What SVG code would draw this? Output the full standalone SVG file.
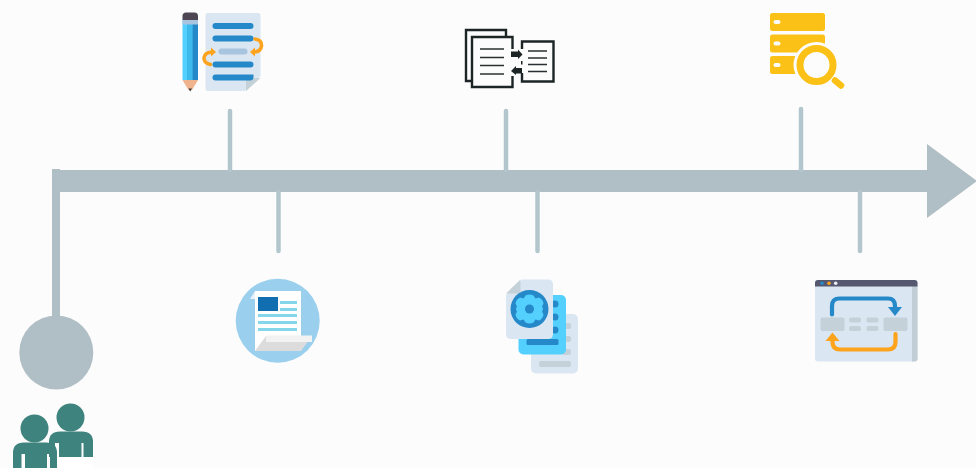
<svg xmlns="http://www.w3.org/2000/svg" width="976" height="468" viewBox="0 0 976 468">
<style>
.axis{fill:#b0bec5}
.tick{stroke:#b3c6cd;stroke-width:4.500;stroke-linecap:round;fill:none}
.person{fill:#3e837d}
.pale{fill:#dae6f1}
.blue{fill:#2488c9}
.mute{fill:#c5d1d9}
.sky{fill:#54d0fe}
.gold{fill:#fbc117}
.ink{fill:none;stroke:#1d2426;stroke-width:2.400}
.rule{stroke:#2a3032;stroke-width:1.300}
.orange{fill:none;stroke:#fda31c;stroke-width:3.500;stroke-linecap:round}
.orangef{fill:#fda31c}
</style>
<rect width="976" height="468" fill="#fcfcfc"/>
<g id="connectors">
<rect class="axis" x="52" y="169" width="8" height="160"/>
<path class="axis" d="M52 170H927V144L977 181L927 218V192H52Z"/>
<path class="tick" d="M230 111V170M506 111V170M801 109V170M278.500 192V251M537.500 192V251M860 192V251"/>
</g>
<g id="start-node">
<circle class="axis" cx="56.300" cy="352.500" r="37"/>
</g>
<g id="people">
<rect x="57" y="457" width="36" height="11" fill="#fff"/>
<circle class="person" cx="70.500" cy="417.500" r="14"/>
<path class="person" d="M49 457V442Q49 431.500 60 431.500H82Q93 431.500 93 442V457H83.500V443H81.500V457H59V443H55V457Z"/>
<circle class="person" cx="34.500" cy="428.500" r="14"/>
<path class="person" d="M13 468V453Q13 442.500 24 442.500H46Q57 442.500 57 453V468H50V454H47V468H25V454H21.500V468Z"/>
</g>
<g id="pencil-doc">
<path class="pale" d="M208 13H258Q260.500 13 260.500 16V76L245 91H208Q205.500 91 205.500 88V16Q205.500 13 208 13Z"/>
<path fill="#c5d1d9" d="M246 91V80.500Q246 78 249 78H260.500Z"/>
<rect class="blue" x="212.500" y="23" width="41" height="6" rx="3"/>
<rect class="blue" x="212.500" y="35.500" width="41" height="6" rx="3"/>
<rect fill="#a9c4df" x="218.500" y="48.500" width="29" height="6" rx="3"/>
<rect class="blue" x="212.500" y="61.500" width="41" height="6" rx="3"/>
<path class="blue" d="M215.500 74.500H253.500V77Q253.500 80.500 250 80.500H215.500Q212.500 80.500 212.500 77.500T215.500 74.500Z"/>
<path class="orange" d="M255 39Q262 40 261.500 46Q261 51.500 254 52"/>
<path class="orangef" d="M255 47.500V56.500L250 52Z"/>
<path class="orange" d="M210.500 64.500Q203.500 63 204 57.500Q205 52.500 211.500 52"/>
<path class="orangef" d="M211 47.500V56.500L216 52Z"/>
<rect class="sky" x="182.500" y="20" width="15.500" height="60"/>
<rect fill="#3eb9ec" x="187" y="20" width="5.500" height="60"/>
<rect class="blue" x="192.500" y="20" width="5.500" height="60"/>
<rect fill="#a9c4df" x="182.500" y="20" width="15.500" height="4.500"/>
<path fill="#4f4654" d="M182.500 20V16Q182.500 12.500 186 12.500H194.500Q198 12.500 198 16V20Z"/>
<path fill="#efb48d" d="M182.500 80H198L192 90H188.500Z"/>
<path fill="#3a3a3a" d="M188.500 88.500H192L190.200 91.500Z"/>
</g>
<g id="documents-compare">
<path class="ink" d="M471 81H466V30H506V36"/>
<path class="ink" d="M512.500 49V37H472V87H512.500V76"/>
<path class="ink" d="M522 49V41.500H553.500V81.500H522V73"/>
<path class="rule" d="M480 49H504M480 57.500H504M480 65.500H504M480 74H504M528 51H547M528 58H547M528 64.500H547M528 71.500H547"/>
<path fill="#1d2426" d="M511 51.500H518V49.500L522.500 54.500L518 59V57H511Z"/>
<path fill="#1d2426" d="M522 68H516V66L511 71L516 75V73.500H522Z"/>
<rect x="521" y="61" width="1.500" height="3.500" fill="#1d2426"/>
</g>
<g id="server-search">
<rect class="gold" x="770" y="13" width="55" height="18" rx="2.500"/>
<rect class="gold" x="770" y="34.500" width="55" height="18" rx="2.500"/>
<rect class="gold" x="770" y="56" width="55" height="18" rx="2.500"/>
<rect x="773.500" y="20" width="7" height="4" rx="2" fill="#fcfcfc"/>
<rect x="773.500" y="41.500" width="7" height="4" rx="2" fill="#fcfcfc"/>
<rect x="773.500" y="63" width="7" height="4" rx="2" fill="#fcfcfc"/>
<circle cx="816.500" cy="65" r="23" fill="#fcfcfc"/>
<circle cx="816.500" cy="65" r="16.500" fill="#fcfcfc" stroke="#fbc117" stroke-width="7"/>
<path d="M835 80.500L841 85.500" stroke="#fbc117" stroke-width="6.500" stroke-linecap="round"/>
</g>
<g id="newspaper">
<circle cx="277.700" cy="320.700" r="42" fill="#9acfee"/>
<path d="M250 299L255 291V299Z" fill="#e8f2f8"/>
<rect x="255" y="291" width="46" height="60" fill="#fff"/>
<rect x="258" y="297" width="20" height="14" fill="#106eb1"/>
<rect x="280" y="301" width="17" height="3" fill="#84d6ea"/>
<rect x="280" y="308" width="17" height="3" fill="#84d6ea"/>
<rect x="258" y="314" width="39" height="3" fill="#84d6ea"/>
<rect x="258" y="321" width="39" height="3" fill="#84d6ea"/>
<rect x="258" y="328" width="39" height="3" fill="#84d6ea"/>
<path d="M255 351L266 336H312L301 351Z" fill="#dcdcdc"/>
<path d="M266 335.500H312V342H266Z" fill="#f2f2f2"/>
</g>
<g id="gear-docs">
<rect class="pale" x="531" y="314" width="47" height="59.500" rx="5"/>
<rect class="mute" x="539" y="361" width="32" height="6" rx="2"/>
<rect class="mute" x="562" y="323" width="9" height="6" rx="2"/>
<rect class="mute" x="562" y="336" width="9" height="6" rx="2"/>
<rect class="mute" x="562" y="349" width="9" height="6" rx="2"/>
<rect class="sky" x="518.500" y="295" width="47.500" height="59.500" rx="5"/>
<rect class="blue" x="526.500" y="339" width="32" height="6" rx="1.500"/>
<circle class="blue" cx="555" cy="304" r="3.500"/>
<circle class="blue" cx="555" cy="317" r="3.500"/>
<circle class="blue" cx="555" cy="330" r="3.500"/>
<path class="pale" d="M522 279.500H548Q553 279.500 553 284.500V334Q553 339 548 339H511Q506 339 506 334V295Z"/>
<path fill="#c5d1d9" d="M506 293.500L520.500 279.500V291Q520.500 293.500 518 293.500Z"/>
<circle class="blue" cx="529.500" cy="309" r="19"/>
<path class="sky" d="M525.500 295.500Q529.500 293.500 533.500 295.500L535.500 298.500L539 297.500Q543 299.500 543.500 303.500L542 306.500Q544 309 542 311.500L543.500 314.500Q543 318.500 539 320.500L535.500 319.500L533.500 322.500Q529.500 324.500 525.500 322.500L523.500 319.500L520 320.500Q516 318.500 515.500 314.500L517 311.500Q515 309 517 306.500L515.500 303.500Q516 299.500 520 297.500L523.500 298.500Z"/>
<circle class="blue" cx="529.500" cy="309" r="4.500"/>
</g>
<g id="window-loop">
<rect class="pale" x="815" y="280" width="102.500" height="81.500" rx="3"/>
<path fill="#c1ced6" d="M912 286H917.500V358.500Q917.500 361.500 914.500 361.500H912Z"/>
<path fill="#55586e" d="M815 286.500V283Q815 280 818 280H914.500Q917.500 280 917.500 283V286.500Z"/>
<circle cx="822" cy="283.300" r="1.800" fill="#2488c9"/>
<circle cx="829" cy="283.300" r="1.800" fill="#fda31c"/>
<circle cx="835.700" cy="283.300" r="1.800" fill="#e8eef3"/>
<rect class="mute" x="820.500" y="317.500" width="24" height="13.500" rx="2"/>
<rect class="mute" x="883.500" y="317.500" width="24" height="13.500" rx="2"/>
<rect class="mute" x="849" y="317.500" width="12" height="5" rx="2"/>
<rect class="mute" x="849" y="326" width="12" height="5" rx="2"/>
<rect class="mute" x="866.500" y="317.500" width="12" height="5" rx="2"/>
<rect class="mute" x="866.500" y="326" width="12" height="5" rx="2"/>
<path d="M832 314.500V306Q832 298.500 839.500 298.500H888Q895 298.500 895 306V309" fill="none" stroke="#2488c9" stroke-width="4.200" stroke-linecap="round"/>
<path class="blue" d="M888 307H902L895 316Z"/>
<path d="M895.500 334V342Q895.500 349.500 888 349.500H840Q832.500 349.500 832.500 342V339" fill="none" stroke="#fda31c" stroke-width="4.200" stroke-linecap="round"/>
<path class="orangef" d="M825.500 341H839.500L832.500 332.500Z"/>
</g>
</svg>
